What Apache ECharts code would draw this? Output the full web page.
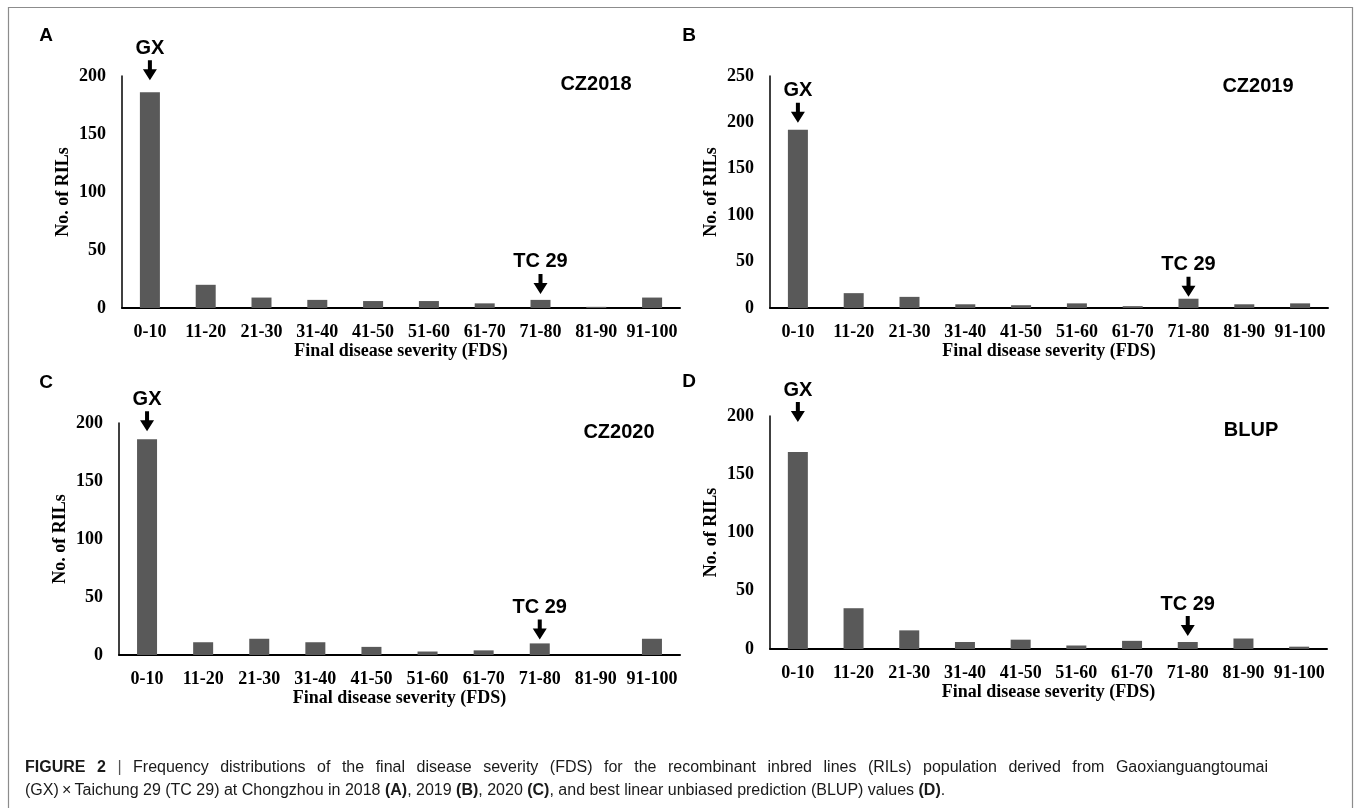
<!DOCTYPE html>
<html>
<head>
<meta charset="utf-8">
<script src="https://cdn.jsdelivr.net/npm/echarts@6/dist/echarts.min.js"></script>
<style>
  html, body { margin: 0; padding: 0; background: #ffffff; }
  #chart { width: 1355px; height: 808px; }
</style>
</head>
<body>
<div id="chart"></div>
<script>
// ---- data ----
const categories = ['0-10', '11-20', '21-30', '31-40', '41-50', '51-60', '61-70', '71-80', '81-90', '91-100'];
const cz2018 = [186, 20, 9, 7, 6, 6, 4, 7, 1, 9];
const cz2019 = [192, 16, 12, 4, 3, 5, 2, 10, 4, 5];
const cz2020 = [186, 11, 14, 11, 7, 3, 4, 10, 0, 14];
const blup   = [169, 35, 16, 6, 8, 3, 7, 6, 9, 2];
const panelNames = ['CZ2018', 'CZ2019', 'CZ2020', 'BLUP'];
const panelLetters = ['A', 'B', 'C', 'D'];
const yMaxes = [200, 250, 200, 200];
const gxLabel = 'GX';
const tcLabel = 'TC 29';
const gxCategory = '0-10';
const tcCategory = '71-80';
const xTitle = 'Final disease severity (FDS)';
const yTitle = 'No. of RILs';
const captionBold = 'FIGURE 2';
const captionLine1 = '| Frequency distributions of the final disease severity (FDS) for the recombinant inbred lines (RILs) population derived from Gaoxianguangtoumai';
const captionLine2 = '{n|(GX)\u2009\u00d7\u2009Taichung 29 (TC 29) at Chongzhou in 2018 }{b|(A)}{n|, 2019 }{b|(B)}{n|, 2020 }{b|(C)}{n|, and best linear unbiased prediction (BLUP) values }{b|(D)}{n|.}';

const seriesData = [cz2018, cz2019, cz2020, blup];

// ---- layout / style ----
const grids = [
  { left: 122, right: 675, top: 76, bottom: 500 },
  { left: 770, right: 27, top: 76, bottom: 500 },
  { left: 119, right: 675, top: 423, bottom: 153 },
  { left: 770, right: 28, top: 416, bottom: 159 }
];
const gxGaps = [12, 7, 8, 30];
const tcGaps = [6, 2, 4, 6];
const nameTextPos = [[596, 84], [1258, 86], [619, 432], [1251, 430]];
const letterPos = [[46, 36], [689, 36], [46, 383], [689, 382]];

const serif = '"Liberation Serif", "Times New Roman", serif';
const sans = '"Liberation Sans", Arial, sans-serif';
const arrowPath = 'path://M5,0 L9,0 L9,9 L14,9 L7,20 L0,9 L5,9 Z';
const ARROW_H = 20;
const CAP_SIZE = 16;
const CAP_COLOR = '#1a1a1a';

const xAxes = [], yAxes = [], series = [], graphics = [];

grids.forEach(function (g, i) {
  xAxes.push({
    type: 'category', gridIndex: i, data: categories,
    axisLine: { lineStyle: { color: '#000', width: 2 } },
    axisTick: { show: false },
    axisLabel: { color: '#000', fontFamily: serif, fontWeight: 'bold', fontSize: 18, margin: 15, interval: 0 },
    name: xTitle, nameLocation: 'middle', nameGap: 34,
    nameTextStyle: { color: '#000', fontFamily: serif, fontWeight: 'bold', fontSize: 18 }
  });
  yAxes.push({
    type: 'value', gridIndex: i, min: 0, max: yMaxes[i], interval: 50,
    axisLine: { show: true, lineStyle: { color: '#000', width: 1.5 } },
    axisTick: { show: false },
    splitLine: { show: false },
    axisLabel: { color: '#000', fontFamily: serif, fontWeight: 'bold', fontSize: 18, margin: 16 },
    name: yTitle, nameLocation: 'middle', nameGap: 50, nameRotate: 90,
    nameTextStyle: { color: '#000', fontFamily: serif, fontWeight: 'bold', fontSize: 18 }
  });
  const vals = seriesData[i];
  const gxIdx = categories.indexOf(gxCategory);
  const tcIdx = categories.indexOf(tcCategory);
  const labelStyle = { show: true, position: 'top', distance: 2, formatter: '{b}', color: '#000', fontFamily: sans, fontWeight: 'bold', fontSize: 20 };
  series.push({
    type: 'bar', xAxisIndex: i, yAxisIndex: i, data: vals, barWidth: 20,
    itemStyle: { color: '#595959' },
    markPoint: {
      symbol: arrowPath, symbolSize: [14, ARROW_H], symbolKeepAspect: false,
      itemStyle: { color: '#000' },
      label: labelStyle,
      data: [
        { name: gxLabel, coord: [gxIdx, vals[gxIdx]], symbolOffset: [0, -(gxGaps[i] + ARROW_H / 2)] },
        { name: tcLabel, coord: [tcIdx, vals[tcIdx]], symbolOffset: [0, -(tcGaps[i] + ARROW_H / 2)] }
      ]
    }
  });
  graphics.push({
    type: 'text', x: nameTextPos[i][0], y: nameTextPos[i][1],
    style: { text: panelNames[i], fontFamily: sans, fontWeight: 'bold', fontSize: 20, fill: '#000', align: 'center', verticalAlign: 'middle' }
  });
  graphics.push({
    type: 'text', x: letterPos[i][0], y: letterPos[i][1],
    style: { text: panelLetters[i], fontFamily: sans, fontWeight: 'bold', fontSize: 19, fill: '#000', align: 'center', verticalAlign: 'middle' }
  });
});

// frame
graphics.push({
  type: 'rect', shape: { x: 8.5, y: 7.5, width: 1344, height: 820 },
  style: { fill: 'none', stroke: '#8c8c8c', lineWidth: 1.2 }, silent: true
});

// caption line 1: justified between x0 and x1
(function () {
  const x0 = 25, x1 = 1268, y = 768;
  const ctx = document.createElement('canvas').getContext('2d');
  const tokens = [];
  captionBold.split(' ').forEach(function (w) { tokens.push({ t: w, b: true }); });
  captionLine1.split(' ').forEach(function (w) { tokens.push({ t: w, b: false }); });
  let total = 0;
  tokens.forEach(function (tk) {
    ctx.font = (tk.b ? 'bold ' : '') + CAP_SIZE + 'px "Liberation Sans", Arial, sans-serif';
    tk.w = ctx.measureText(tk.t).width;
    total += tk.w;
  });
  const gap = (x1 - x0 - total) / (tokens.length - 1);
  let x = x0;
  tokens.forEach(function (tk) {
    graphics.push({
      type: 'text', x: x, y: y, silent: true,
      style: { text: tk.t, fontFamily: sans, fontWeight: tk.b ? 'bold' : 'normal', fontSize: CAP_SIZE,
               fill: tk.t === '|' ? '#555' : CAP_COLOR, align: 'left', verticalAlign: 'middle' }
    });
    x += tk.w + gap;
  });
})();

const capRich = {
  b: { fontFamily: sans, fontWeight: 'bold', fontSize: CAP_SIZE, fill: CAP_COLOR },
  n: { fontFamily: sans, fontWeight: 'normal', fontSize: CAP_SIZE, fill: CAP_COLOR }
};
graphics.push({ type: 'text', x: 25, y: 791, style: { text: captionLine2, rich: capRich, verticalAlign: 'middle', align: 'left' } });

const chart = echarts.init(document.getElementById('chart'), null, { renderer: 'canvas' });
chart.setOption({
  animation: false,
  backgroundColor: '#ffffff',
  grid: grids,
  xAxis: xAxes,
  yAxis: yAxes,
  series: series,
  graphic: graphics
});
</script>
</body>
</html>
